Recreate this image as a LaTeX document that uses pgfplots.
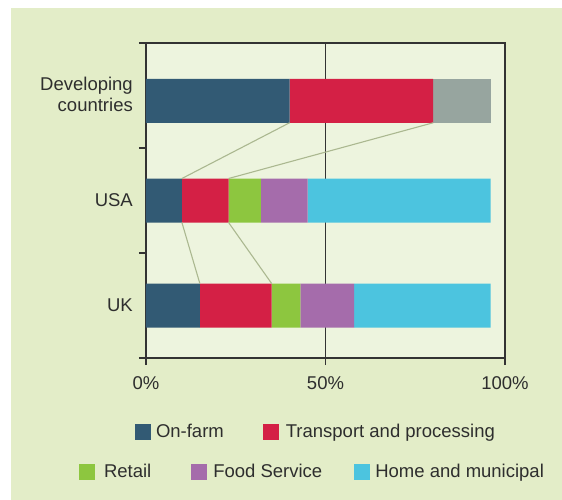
\documentclass[border=0pt]{standalone}
\usepackage{pgfplots}
\pgfplotsset{compat=1.18}
\usepackage{fontspec}
\setmainfont{Liberation Sans}
\definecolor{onfarm}{HTML}{325A74}
\definecolor{transport}{HTML}{D42045}
\definecolor{devgray}{HTML}{97A59F}
\definecolor{retail}{HTML}{8DC63F}
\definecolor{food}{HTML}{A56CAB}
\definecolor{home}{HTML}{4CC4DF}
\definecolor{plotbg}{HTML}{EDF4DE}
\definecolor{outerbg}{HTML}{E3EDC8}
\definecolor{conn}{HTML}{ABB890}
\definecolor{framecol}{HTML}{333333}
\definecolor{textcol}{HTML}{2E2E2E}
\newcommand{\chartfont}{\fontsize{18.5bp}{20.5bp}\selectfont}
\begin{document}
\begin{tikzpicture}
\fill[white] (-146bp,-142bp) rectangle (416bp,358bp);
\fill[outerbg] (-135bp,-142bp) rectangle (416bp,350bp);
\begin{axis}[
  at={(0,0)}, anchor=south west,
  scale only axis, width=359bp, height=315bp,
  xmin=0, xmax=100, ymin=-0.5, ymax=2.5,
  xbar stacked, bar width=44bp,
  axis background/.style={fill=plotbg},
  axis line style={draw=framecol, line width=1.2bp},
  tick style={draw=framecol, line width=1.2bp},
  xtick={0,50,100}, xticklabels={0\%,50\%,100\%},
  xtick pos=bottom, ytick pos=left,
  tick align=outside, major tick length=7bp,
  xmajorgrids, grid style={draw=framecol, line width=1bp},
  ytick={-0.5,0.5,1.5,2.5}, yticklabels={},
  extra y ticks={0,1,2.01},
  extra y tick labels={UK,USA,{Developing\\countries}},
  extra y tick style={major tick length=0pt, yticklabel style={align=right}},
  /pgf/number format/assume math mode=true,
  tick label style={font=\chartfont, text=textcol},
  xticklabel style={inner sep=0pt, yshift=-11bp},
  yticklabel style={inner sep=0pt, xshift=-13bp},
  legend image code/.code={\fill[#1] (0bp,-8bp) rectangle (16bp,8bp);},
  legend style={draw=none, fill=none, inner sep=0pt, outer sep=0pt,
    font=\chartfont, text=textcol, anchor=west, at={(-0.0306,-0.2350)},
    nodes={inner sep=0pt},
    /tikz/column 1/.style={column sep=5bp},
    /tikz/column 2/.style={column sep=39bp},
    /tikz/column 3/.style={column sep=7bp}},
  legend columns=2,
]
\addplot[fill=onfarm, draw=none] coordinates {(15,0) (10,1) (40,1.95)};
\addplot[fill=transport, draw=none] coordinates {(20,0) (13,1) (40,1.95)};
\addplot[fill=devgray, draw=none] coordinates {(0,0) (0,1) (16,1.95)};
\addplot[fill=retail, draw=none] coordinates {(8,0) (9,1) (0,1.95)};
\addplot[fill=food, draw=none] coordinates {(15,0) (13,1) (0,1.95)};
\addplot[fill=home, draw=none] coordinates {(38,0) (51,1) (0,1.95)};
\legend{On-farm, Transport and processing}
\end{axis}
\begin{axis}[
  at={(0,0)}, anchor=south west,
  scale only axis, width=359bp, height=315bp,
  xmin=0, xmax=100, ymin=-0.5, ymax=2.5,
  hide axis,
  legend image code/.code={\fill[#1] (0bp,-8bp) rectangle (16bp,8bp);},
  legend style={draw=none, fill=none, inner sep=0pt, outer sep=0pt,
    font=\chartfont, text=textcol, anchor=west, at={(-0.1866,-0.3619)},
    nodes={inner sep=0pt},
    /tikz/column 1/.style={column sep=9bp},
    /tikz/column 2/.style={column sep=40bp},
    /tikz/column 3/.style={column sep=6bp},
    /tikz/column 4/.style={column sep=32bp},
    /tikz/column 5/.style={column sep=5bp}},
  legend columns=3,
]
\addlegendimage{fill=retail, draw=none}
\addlegendentry{Retail}
\addlegendimage{fill=food, draw=none}
\addlegendentry{Food Service}
\addlegendimage{fill=home, draw=none}
\addlegendentry{Home and municipal}
\addplot[conn, line width=1.1bp, forget plot] coordinates {(40,1.7405) (10,1.2095)};
\addplot[conn, line width=1.1bp, forget plot] coordinates {(80,1.7405) (23,1.2095)};
\addplot[conn, line width=1.1bp, forget plot] coordinates {(10,0.7905) (15,0.2095)};
\addplot[conn, line width=1.1bp, forget plot] coordinates {(23,0.7905) (35,0.2095)};
\end{axis}
\pgfresetboundingbox
\path[use as bounding box] (-146bp,-142bp) rectangle (416bp,358bp);
\end{tikzpicture}
\end{document}
